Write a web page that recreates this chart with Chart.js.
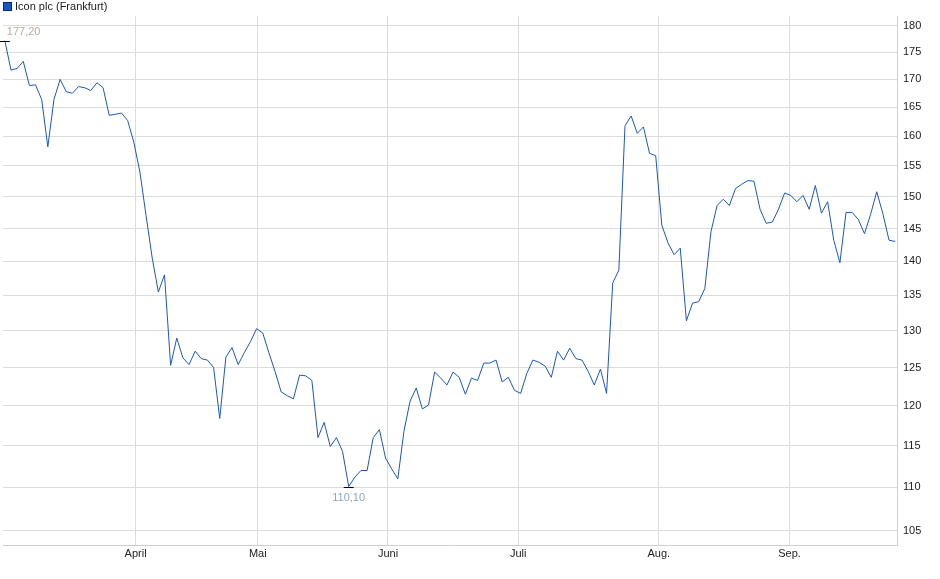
<!DOCTYPE html>
<html lang="de">
<head>
<meta charset="UTF-8">
<title>Icon plc (Frankfurt)</title>
<script src="https://cdn.jsdelivr.net/npm/chart.js@4/dist/chart.umd.min.js"></script>
<style>
  html, body { margin: 0; padding: 0; background: #fff; }
  #wrap { position: relative; width: 940px; height: 579px; }
  #legend { position: absolute; left: 3px; top: 0px; font: 11px "Liberation Sans", Arial, sans-serif; color: #222; line-height: 13px; }
  #legend span { display: inline-block; width: 7px; height: 7px; background: #1a56c4; border: 1px solid #0a2a6a; margin-right: 3px; vertical-align: -1px; }
</style>
</head>
<body>
<div id="wrap">
  <div id="legend"><span></span>Icon plc (Frankfurt)</div>
  <canvas id="chart" width="940" height="579"></canvas>
</div>
<script>
// daily closing prices (EUR)
const prices = [177.2, 171.7, 172, 173.3, 168.9, 169, 166.4, 158.2, 166.4, 170,
  167.8, 167.5, 168.7, 168.5, 168, 169.4, 168.5, 163.6, 163.8, 164,
  162.7, 159, 154, 147, 140.5, 135.5, 138, 125.3, 129, 126.3,
  125.4, 127.2, 126.2, 126, 125, 118.4, 126.4, 127.7, 125.4, 127,
  128.5, 130.3, 129.7, 127, 124.5, 121.8, 121.3, 120.9, 124, 123.9,
  123.3, 116, 117.9, 114.9, 116, 114.3, 110.1, 111.2, 112, 112,
  116, 117, 113.5, 112.2, 111, 116.8, 120.6, 122.3, 119.6, 120.1,
  124.4, 123.6, 122.7, 124.4, 123.7, 121.5, 123.6, 123.3, 125.6, 125.6,
  126, 123.1, 123.7, 122, 121.6, 124.2, 126, 125.7, 125.2, 123.7,
  127.2, 126, 127.6, 126.2, 126, 124.5, 122.7, 124.8, 121.6, 136.8,
  138.7, 161.8, 163.5, 160.5, 161.6, 157.1, 156.7, 145.5, 142.8, 141,
  142, 131.4, 133.9, 134.1, 136, 144.5, 148.6, 149.6, 148.6, 151.3,
  152, 152.6, 152.5, 148, 145.8, 146, 148, 150.6, 150.2, 149.2,
  150.2, 148, 151.8, 147.4, 149.2, 143.2, 139.8, 147.5, 147.5, 146.4,
  144.2, 147.2, 150.8, 147.3, 143.2, 143];
// month starts, in trading-day positions
const monthNames = ["April", "Mai", "Juni", "Juli", "Aug.", "Sep."];
const monthPos = [21.3, 41.2, 62.4, 83.6, 106.5, 127.8];
const yTicks = [105, 110, 115, 120, 125, 130, 135, 140, 145, 150, 155, 160, 165, 170, 175, 180];

const points = prices.map((v, i) => ({ x: i, y: v }));
let hiIdx = 0, loIdx = 0;
prices.forEach((v, i) => { if (v > prices[hiIdx]) hiIdx = i; if (v < prices[loIdx]) loIdx = i; });

const fmt = v => v.toFixed(2).replace(".", ",");

// marks and labels for high / low
const extremes = {
  id: "extremes",
  afterDatasetsDraw(chart) {
    const { ctx, scales: { x, y } } = chart;
    ctx.save();
    ctx.font = '11px "Liberation Sans", Arial, sans-serif';
    ctx.strokeStyle = "#000";
    ctx.lineWidth = 1;
    [[hiIdx, -1], [loIdx, 1]].forEach(([i, dir]) => {
      const px = x.getPixelForValue(i), py = Math.round(y.getPixelForValue(prices[i])) + 0.5;
      ctx.beginPath(); ctx.moveTo(px - 5, py); ctx.lineTo(px + 5, py); ctx.stroke();
      ctx.fillStyle = dir < 0 ? "#b9ab9b" : "#8aa6c8";
      ctx.textAlign = dir < 0 ? "left" : "center";
      ctx.textBaseline = "middle";
      ctx.fillText(fmt(prices[i]), dir < 0 ? px + 2 : px, py + dir * 10);
    });
    ctx.restore();
  }
};

new Chart(document.getElementById("chart"), {
  type: "line",
  data: { datasets: [{ data: points, borderColor: "#1a56c4", borderWidth: 1, pointRadius: 0, tension: 0 }] },
  options: {
    responsive: false,
    animation: false,
    layout: { padding: { left: 3, top: 16, right: 0, bottom: 16 } },
    plugins: { legend: { display: false }, tooltip: { enabled: false } },
    scales: {
      x: {
        type: "linear", min: -0.3, max: 145.3,
        afterBuildTicks: s => { s.ticks = monthPos.map(v => ({ value: v })); },
        afterFit: s => { s.height = 18; },
        ticks: {
          autoSkip: false, maxRotation: 0, padding: 2,
          font: { family: '"Liberation Sans", Arial, sans-serif', size: 11 }, color: "#222",
          callback: (v, i) => monthNames[i]
        },
        grid: { color: "#dcdcdc", drawTicks: false },
        border: { color: "#cfcfcf" }
      },
      y: {
        type: "logarithmic", position: "right", min: 103.44, max: 181.9,
        afterBuildTicks: s => { s.ticks = yTicks.map(v => ({ value: v })); },
        afterFit: s => { s.width = 43; },
        ticks: {
          padding: 6,
          font: { family: '"Liberation Sans", Arial, sans-serif', size: 11 }, color: "#222",
          callback: v => String(v)
        },
        grid: { color: "#dcdcdc", drawTicks: false },
        border: { color: "#cfcfcf" }
      }
    }
  },
  plugins: [extremes]
});
</script>
</body>
</html>
